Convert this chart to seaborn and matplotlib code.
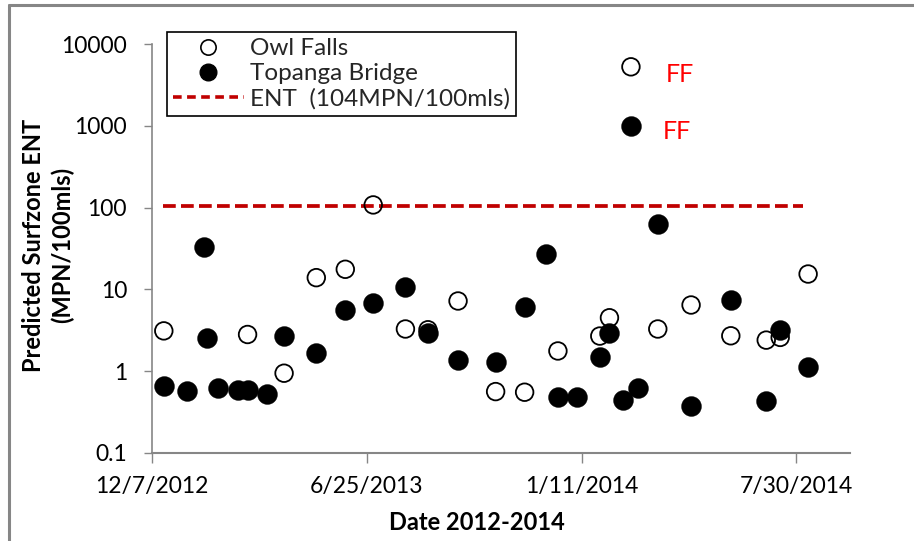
import matplotlib
matplotlib.use("Agg")
import matplotlib.pyplot as plt
from matplotlib.lines import Line2D
import pandas as pd
import seaborn as sns

# Sampling dates and predicted surf-zone enterococcus (MPN/100 ml)
owl_dates = ["12/18/2012", "3/6/2013", "4/9/2013", "5/9/2013", "6/5/2013", "7/1/2013",
             "7/31/2013", "8/21/2013", "9/18/2013", "10/23/2013", "11/19/2013",
             "12/20/2013", "1/28/2014", "2/6/2014", "2/26/2014", "3/23/2014",
             "4/23/2014", "5/30/2014", "7/2/2014", "7/15/2014", "8/10/2014"]
owl_values = [3.1, 2.8, 0.94, 13.9, 17.6, 108, 3.27, 3.2, 7.2, 0.56, 0.55,
              1.76, 2.68, 4.49, 5300, 3.27, 6.43, 2.70, 2.39, 2.58, 15.4]

topanga_dates = ["12/18/2012", "1/9/2013", "1/24/2013", "1/27/2013", "2/6/2013",
                 "2/25/2013", "3/6/2013", "3/24/2013", "4/9/2013", "5/9/2013",
                 "6/5/2013", "7/1/2013", "7/31/2013", "8/21/2013", "9/18/2013",
                 "10/23/2013", "11/19/2013", "12/9/2013", "12/20/2013", "1/7/2014",
                 "1/28/2014", "2/6/2014", "2/19/2014", "2/26/2014", "3/5/2014",
                 "3/23/2014", "4/23/2014", "5/30/2014", "7/2/2014", "7/15/2014",
                 "8/10/2014"]
topanga_values = [0.66, 0.57, 32.7, 2.51, 0.62, 0.585, 0.585, 0.53, 2.70, 1.65,
                  5.6, 6.9, 10.8, 2.9, 1.36, 1.28, 6.0, 27, 0.485, 0.485,
                  1.47, 2.89, 0.44, 1000, 0.625, 62.5, 0.373, 7.4, 0.43, 3.18,
                  1.13]

# Single-sample enterococcus standard
ent_threshold = 104
ent_span = ["12/17/2012", "8/5/2014"]

# First-flush storm samples
ff_date = "2/26/2014"
ff_label = "FF"

x_tick_labels = ["12/7/2012", "6/25/2013", "1/11/2014", "7/30/2014"]
x_range = ["12/7/2012", "9/18/2014"]
y_tick_values = [0.1, 1, 10, 100, 1000, 10000]
y_tick_labels = ["0.1", "1", "10", "100", "1000", "10000"]

sns.set_theme(style="white")
plt.rcParams["font.family"] = ["Lato", "DejaVu Sans"]

owl = pd.DataFrame({"date": pd.to_datetime(owl_dates, format="%m/%d/%Y"),
                    "ent": owl_values})
topanga = pd.DataFrame({"date": pd.to_datetime(topanga_dates, format="%m/%d/%Y"),
                        "ent": topanga_values})
ent_line = pd.DataFrame({"date": pd.to_datetime(ent_span, format="%m/%d/%Y"),
                         "ent": [ent_threshold, ent_threshold]})

fig = plt.figure(figsize=(9.14, 5.41), dpi=100)
ax = fig.add_axes([152 / 914, 1 - 452.7 / 541, 698 / 914, 408.4 / 541])

gray = "#868686"
ent_red = "#C00000"
dash = (0, (3.4, 1.4))

sns.lineplot(data=ent_line, x="date", y="ent", ax=ax, color=ent_red,
             linewidth=2.7, linestyle=dash, zorder=2)
sns.scatterplot(data=owl, x="date", y="ent", ax=ax, marker="o", s=160,
                facecolor="none", edgecolor="black", linewidth=1.3,
                legend=False, zorder=3)
sns.scatterplot(data=topanga, x="date", y="ent", ax=ax, marker="o", s=205,
                color="black", edgecolor="black", linewidth=0.3,
                legend=False, zorder=4)

ax.set_yscale("log")
ax.set_ylim(y_tick_values[0], y_tick_values[-1])
ax.set_yticks(y_tick_values)
ax.set_yticklabels(y_tick_labels)
ax.minorticks_off()

x_ticks = pd.to_datetime(x_tick_labels, format="%m/%d/%Y")
x_lim = pd.to_datetime(x_range, format="%m/%d/%Y")
ax.set_xlim(x_lim[0], x_lim[1])
ax.set_xticks(x_ticks)
ax.set_xticklabels(x_tick_labels)

for side in ("top", "right"):
    ax.spines[side].set_visible(False)
ax.spines["left"].set_color(gray)
ax.spines["left"].set_linewidth(1.2)
ax.spines["bottom"].set_color(gray)
ax.spines["bottom"].set_linewidth(1.5)

ax.tick_params(axis="x", direction="out", length=7, width=1.0, color=gray,
               pad=10, labelsize=16.5, labelcolor="black", bottom=True)
ax.tick_params(axis="y", direction="out", length=6, width=1.0, color=gray,
               pad=12, labelsize=16.5, labelcolor="black", left=True)

ax.set_xlabel("Date 2012-2014", fontsize=17, fontweight="bold", color="black")
ax.xaxis.set_label_coords(0.4656, -0.143)
ax.xaxis.label.set_verticalalignment("top")

ax.set_ylabel("Predicted Surfzone ENT\n(MPN/100mls)", fontsize=17,
              fontweight="bold", color="black", linespacing=1.3)
ax.yaxis.set_label_coords(-0.1485, 0.5086)
ax.yaxis.label.set_verticalalignment("center")

# Label the first-flush samples
ff_ts = pd.to_datetime(ff_date, format="%m/%d/%Y")
owl_ff = owl.loc[owl["date"] == ff_ts, "ent"].iloc[0]
top_ff = topanga.loc[topanga["date"] == ff_ts, "ent"].iloc[0]
ax.annotate(ff_label, xy=(ff_ts, owl_ff), xytext=(35, -11),
            textcoords="offset points", ha="center", va="baseline",
            color="#FF0000", fontsize=18)
ax.annotate(ff_label, xy=(ff_ts, top_ff), xytext=(33, -9.4),
            textcoords="offset points", ha="center", va="baseline",
            color="#FF0000", fontsize=18)

handles = [
    Line2D([], [], marker="o", linestyle="none", markersize=11,
           markerfacecolor="none", markeredgecolor="black", markeredgewidth=1.2),
    Line2D([], [], marker="o", linestyle="none", markersize=12,
           markerfacecolor="black", markeredgecolor="black"),
    Line2D([], [], color=ent_red, linewidth=2.6, linestyle=(0, (2.4, 1.5))),
]
labels = ["Owl Falls", "Topanga Bridge", "ENT  (104MPN/100mls)"]
leg = fig.legend(handles, labels, loc="upper left",
                 bbox_to_anchor=(167 / 914, 1 - 32 / 541),
                 bbox_transform=fig.transFigure, borderaxespad=0,
                 frameon=True, fancybox=False, shadow=False, framealpha=1,
                 edgecolor="black", fontsize=17.5, handlelength=2.9,
                 handletextpad=0.25, borderpad=0.25, labelspacing=0.17)
leg.get_frame().set_linewidth(1.2)

# Chart-area border
fig.add_artist(Line2D([8.5 / 914, 8.5 / 914], [0, 1 - 4.5 / 541],
                      transform=fig.transFigure, color=gray, linewidth=2.2))
fig.add_artist(Line2D([8.5 / 914, 1], [1 - 4.5 / 541, 1 - 4.5 / 541],
                      transform=fig.transFigure, color=gray, linewidth=2.2))

fig.savefig("out.png", dpi=100)
